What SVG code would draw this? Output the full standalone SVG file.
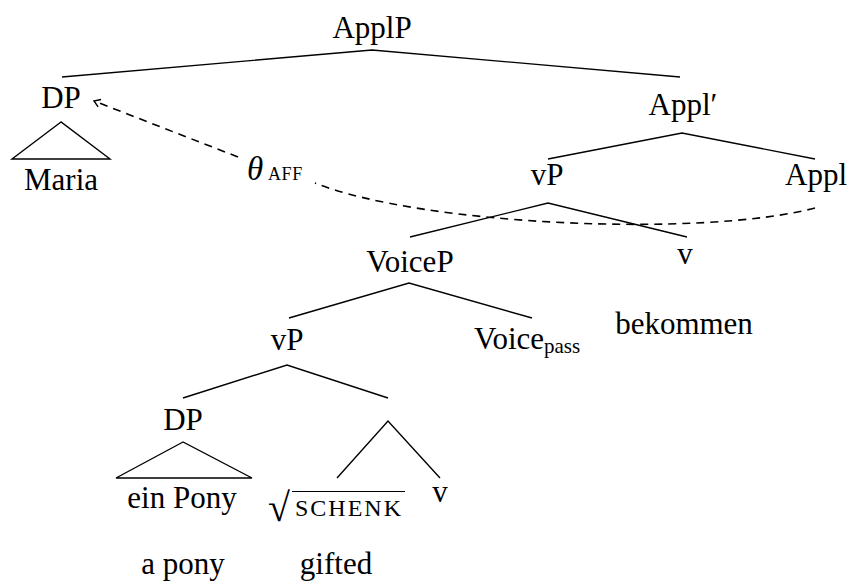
<svg xmlns="http://www.w3.org/2000/svg" width="850" height="588" viewBox="0 0 850 588">
  <style>
    text { font-family: "Liberation Serif", "Times New Roman", serif; fill: #000; }
    .lbl { font-size: 31px; text-anchor: middle; }
    .sub { font-size: 21px; }
    .sc { font-size: 18px; letter-spacing: 0.6px; }
    .edge { stroke: #000; stroke-width: 1.4; fill: none; }
    .dash { stroke: #000; stroke-width: 1.6; fill: none; stroke-dasharray: 8 6; }
  </style>
  <defs>
    <marker id="tip" viewBox="0 0 10 10" refX="8" refY="5" markerWidth="10" markerHeight="10" markerUnits="userSpaceOnUse" orient="auto">
      <path d="M2,1 L8,5 L2,9" fill="none" stroke="#000" stroke-width="1.4"/>
    </marker>
  </defs>

  <!-- tree branches -->
  <g id="connectors">
    <polyline class="edge" points="62,77 372,50 680,77"/>
    <polygon class="edge" points="61,122 12,159 110,159"/>
    <polyline class="edge" points="548,159 682,133 815,159"/>
    <polyline class="edge" points="410,237 548,203 687,237"/>
    <polyline class="edge" points="289,318 409,283 532,318"/>
    <polyline class="edge" points="183,398 287,365 388,398"/>
    <polygon class="edge" points="183,442 116,478 252,478"/>
    <polyline class="edge" points="337,478 388,421 440,478"/>
    <!-- theta-role assignment: Appl to the applied DP -->
    <path class="dash" d="M815,208 C700,238 420,225 315,183"/>
    <path class="dash" d="M238,157 L94,101" marker-end="url(#tip)"/>
  </g>

  <g id="applp"><text class="lbl" x="372" y="38">ApplP</text></g>
  <g id="dp-maria">
    <text class="lbl" x="61" y="108">DP</text>
    <text class="lbl" x="61" y="190">Maria</text>
  </g>
  <g id="theta">
    <text x="247" y="180" style="font-size:33px;font-style:italic">θ</text>
    <text class="sc" x="268" y="180">AFF</text>
  </g>
  <g id="applbar"><text class="lbl" x="683" y="115">Appl′</text></g>
  <g id="vp-upper"><text class="lbl" x="547" y="185">vP</text></g>
  <g id="appl"><text class="lbl" x="816" y="185">Appl</text></g>
  <g id="voicep"><text class="lbl" x="410" y="272">VoiceP</text></g>
  <g id="v-upper">
    <text class="lbl" x="685" y="264">v</text>
    <text class="lbl" x="684" y="334">bekommen</text>
  </g>
  <g id="voice-pass">
    <text x="474" y="349" style="font-size:31px">Voice<tspan class="sub" dy="4">pass</tspan></text>
  </g>
  <g id="vp-lower"><text class="lbl" x="287" y="350">vP</text></g>
  <g id="dp-pony">
    <text class="lbl" x="183" y="430">DP</text>
    <text class="lbl" x="182" y="508">ein Pony</text>
    <text class="lbl" x="183" y="574">a pony</text>
  </g>
  <g id="root-schenk">
    <text x="268" y="521" style="font-size:40px">√</text>
    <line x1="292" y1="491.5" x2="405" y2="491.5" stroke="#000" stroke-width="1.2"/>
    <text x="295" y="516" style="font-size:24px;letter-spacing:2px">SCHENK</text>
    <text class="lbl" x="336" y="574">gifted</text>
  </g>
  <g id="v-lower"><text class="lbl" x="440" y="502">v</text></g>
</svg>
